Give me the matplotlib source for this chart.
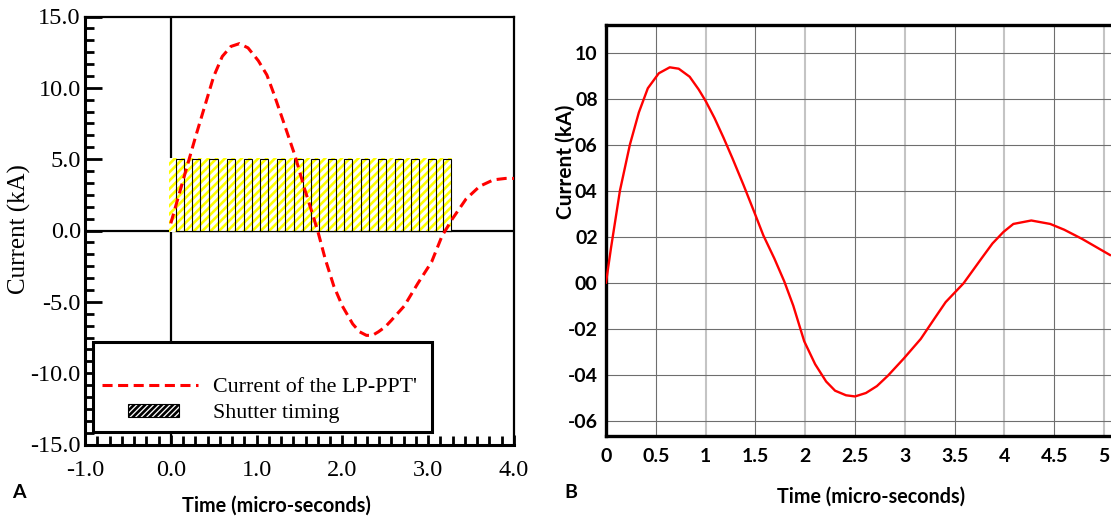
import matplotlib.pyplot as plt
from matplotlib.patches import Rectangle
from matplotlib.lines import Line2D
from matplotlib.legend_handler import HandlerPatch
from matplotlib.ticker import MultipleLocator

# panel A : current of the LP-PPT (kA) against time (micro-seconds)
t_a = [0.0, 0.09, 0.19, 0.29, 0.41, 0.5, 0.6, 0.7, 0.8, 0.9, 1.02, 1.12, 1.2, 1.32,
       1.45, 1.56, 1.66, 1.72, 1.8, 1.9, 2.0, 2.12, 2.2, 2.28, 2.35, 2.42, 2.5, 2.57,
       2.72, 2.88, 3.04, 3.16, 3.28, 3.44, 3.6, 3.76, 3.9, 4.0]
i_a = [0.5, 2.4, 4.5, 6.6, 9.0, 10.8, 12.2, 12.9, 13.1, 12.8, 11.9, 10.9, 9.6, 7.5,
       5.2, 2.9, 1.0, -0.2, -2.0, -3.9, -5.3, -6.55, -7.1, -7.35, -7.35, -7.1, -6.75, -6.3,
       -5.3, -3.7, -2.2, -0.4, 0.8, 2.2, 3.1, 3.55, 3.65, 3.65]

# shutter timing
shutter_start = [0.06, 0.25, 0.45, 0.65, 0.85, 1.04, 1.24, 1.44, 1.63, 1.83, 2.02,
                 2.22, 2.41, 2.61, 2.80, 3.0, 3.17]
shutter_width = 0.095
shutter_span = [-0.02, 3.28]
shutter_level = 5.0

# panel B
t_b = [0.0, 0.05, 0.14, 0.24, 0.33, 0.42, 0.53, 0.64, 0.73, 0.84, 0.93, 1.0, 1.09, 1.18,
       1.27, 1.38, 1.49, 1.58, 1.69, 1.79, 1.88, 1.99, 2.1, 2.21, 2.3, 2.41, 2.5, 2.61,
       2.72, 2.83, 2.99, 3.16, 3.3, 3.41, 3.59, 3.77, 3.88, 3.99, 4.09, 4.27, 4.46, 4.6,
       4.78, 5.0, 5.06]
i_b = [0.0, 1.5, 4.0, 6.0, 7.4, 8.45, 9.1, 9.36, 9.3, 8.95, 8.4, 7.9, 7.15, 6.3,
       5.4, 4.25, 3.05, 2.05, 1.05, 0.05, -1.0, -2.55, -3.55, -4.3, -4.7, -4.9, -4.95, -4.8,
       -4.5, -4.05, -3.3, -2.45, -1.55, -0.85, -0.03, 1.05, 1.7, 2.2, 2.55, 2.7, 2.55, 2.3,
       1.9, 1.35, 1.2]

a_xticks = [-1, 0, 1, 2, 3, 4]
a_xlabels = ['-1.0', '0.0', '1.0', '2.0', '3.0', '4.0']
a_yticks = [-15, -10, -5, 0, 5, 10, 15]
a_ylabels = ['-15.0', '-10.0', '-5.0', '0.0', '5.0', '10.0', '15.0']
b_xmajor = [0, 1, 2, 3, 4, 5]
b_xminor = [0.5, 1.5, 2.5, 3.5, 4.5]
b_yticks = [10, 8, 6, 4, 2, 0, -2, -4, -6]
b_ylabels = ['10', '08', '06', '04', '02', '00', '-02', '-04', '-06']

plt.rcParams['hatch.linewidth'] = 1.9
W, H = 1111, 520
fig = plt.figure(figsize=(W / 100, H / 100), dpi=100)
serif = 'Liberation Serif'
sans = 'Lato'

# ---------- panel A
axA = fig.add_axes([85 / W, 1 - 444.5 / H, 429 / W, 428 / H])
axA.set_xlim(-1, 4)
axA.set_ylim(-15, 15)
axA.axhline(0, color='black', lw=1.6, zorder=1)
axA.axvline(0, color='black', lw=1.6, zorder=1)

axA.add_patch(Rectangle((shutter_span[0], -0.1), shutter_span[1] - shutter_span[0],
                        shutter_level + 0.15, facecolor='white', edgecolor='#ffff00',
                        hatch='////', lw=0, zorder=2))
for s in shutter_start:
    axA.add_patch(Rectangle((s, 0), shutter_width, shutter_level, fill=False,
                            edgecolor='black', lw=0.8, zorder=3))
axA.plot([shutter_start[0], shutter_start[-1] + shutter_width], [0, 0],
         color='black', lw=0.8, zorder=3)

red_dash = dict(color='#ff0000', lw=2.2, dashes=(3.3, 1.8))
axA.plot(t_a, i_a, zorder=4, **red_dash)

axA.set_xticks(a_xticks, a_xlabels)
axA.set_yticks(a_yticks, a_ylabels)
axA.xaxis.set_minor_locator(MultipleLocator(1 / 7))
axA.yaxis.set_minor_locator(MultipleLocator(5 / 6))
axA.tick_params(which='both', direction='in', top=False, right=False, width=2,
                labelsize=17.5, labelfontfamily=serif)
axA.tick_params(axis='y', which='major', length=12, pad=3)
axA.tick_params(axis='y', which='minor', length=6.5)
axA.tick_params(axis='x', which='major', length=7, pad=11)
axA.tick_params(axis='x', which='minor', length=6.5)
for side in ['left', 'bottom']:
    axA.spines[side].set_linewidth(2.2)
for side in ['top', 'right']:
    axA.spines[side].set_linewidth(1.6)

axA.add_patch(Rectangle((0.018, 0.030), 0.79, 0.21, transform=axA.transAxes,
                        facecolor='white', edgecolor='black', lw=2.2, zorder=5))


def small_patch(legend, orig_handle, xdescent, ydescent, width, height, fontsize):
    return Rectangle((-xdescent + 0.27 * width, -ydescent + 0.1 * height),
                     0.53 * width, 0.8 * height)


h_line = Line2D([], [], **red_dash)
h_patch = Rectangle((0, 0), 1, 1, facecolor='white', edgecolor='black', hatch='//////', lw=0.8)
leg = axA.legend([h_line, h_patch], ["Current of the LP-PPT'", 'Shutter timing'],
                 loc='lower left', bbox_to_anchor=(0.013, 0.024), frameon=False,
                 prop=dict(family=serif, size=15.8), handlelength=4.4, handletextpad=0.7,
                 labelspacing=0.25, borderpad=0,
                 handler_map={Rectangle: HandlerPatch(patch_func=small_patch)})
leg.set_zorder(6)

fig.text(19 / W, 1 - 229 / H, 'Current (kA)', rotation=90, ha='center', va='center',
         family=serif, size=18)
fig.text(276 / W, 1 - 506 / H, 'Time (micro-seconds)', ha='center', va='center',
         family=sans, weight='bold', size=14.3)
fig.text(12 / W, 1 - 493 / H, 'A', ha='left', va='center', family=sans, weight='bold', size=14)

# ---------- panel B
axB = fig.add_axes([606 / W, 1 - 436 / H, 505 / W, 411 / H])
axB.set_xlim(0, 505 / 99.6)
axB.set_ylim(-6.67, 11.2)
axB.plot(t_b, i_b, color='#ff0000', lw=1.7, zorder=3)
axB.set_xticks(b_xmajor, [str(v) for v in b_xmajor])
axB.set_xticks(b_xminor, [str(v) for v in b_xminor], minor=True)
axB.set_yticks(b_yticks, b_ylabels)
axB.grid(which='major', axis='x', color='#c4c4c4', lw=1.5)
axB.grid(which='minor', axis='x', color='#6e6e6e', lw=0.8)
axB.grid(which='major', axis='y', color='#6e6e6e', lw=0.8)
axB.tick_params(which='both', length=0, labelsize=14, labelfontfamily=sans)
axB.tick_params(axis='x', which='both', pad=9)
axB.tick_params(axis='y', pad=6)
for lab in axB.get_xticklabels(which='both') + axB.get_yticklabels():
    lab.set_fontweight('bold')
for side in ['left', 'bottom', 'top']:
    axB.spines[side].set_linewidth(2.4)
axB.spines['right'].set_visible(False)

fig.text(566 / W, 1 - 162 / H, 'Current (kA)', rotation=90, ha='center', va='center',
         family=sans, weight='bold', size=15)
fig.text(871 / W, 1 - 497 / H, 'Time (micro-seconds)', ha='center', va='center',
         family=sans, weight='bold', size=14.2)
fig.text(571 / W, 1 - 493 / H, 'B', ha='center', va='center', family=sans, weight='bold', size=14)

fig.savefig('out.png', dpi=100)
